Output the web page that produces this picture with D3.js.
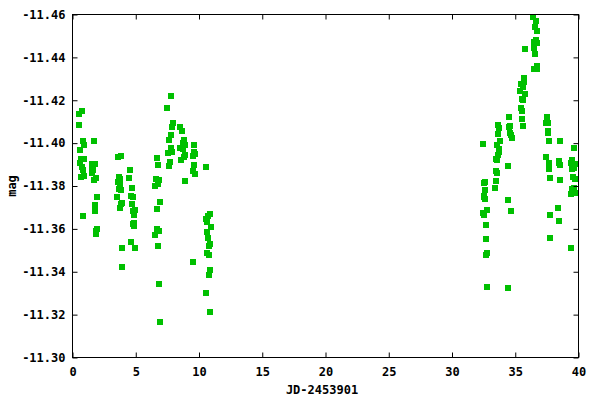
<!DOCTYPE html>
<html><head><meta charset="utf-8">
<script src="https://cdn.jsdelivr.net/npm/d3@7"></script>
<style>
html,body{margin:0;padding:0;background:#fff;}
svg{display:block;}
text{font-family:"DejaVu Sans Mono",monospace;font-weight:bold;font-size:12px;fill:#000;}
</style></head>
<body>
<svg id="chart" width="600" height="400"></svg>
<script>
// Julian date offsets (JD-2453901)
const jd = [
 0.50,0.73,0.53,0.81,0.89,0.58,0.66,0.89,0.61,0.73,0.84,0.66,0.89,0.81,
 1.68,1.58,1.79,1.55,1.63,1.55,1.87,1.68,1.92,1.76,1.76,1.92,1.84,1.84,
 3.61,3.81,4.52,3.65,3.73,3.58,4.44,3.73,3.65,3.81,4.68,3.50,3.89,3.81,3.73,4.60,4.76,4.68,4.76,4.92,4.84,4.76,4.84,4.84,4.60,3.89,4.92,3.89,
 6.65,6.73,6.57,6.81,6.73,6.50,6.89,6.65,6.65,6.81,6.50,6.73,6.81,6.89,
 7.76,7.44,7.92,7.84,8.47,8.63,7.76,7.60,8.78,8.71,8.86,9.57,7.76,8.52,8.71,7.52,7.84,9.57,9.65,8.86,9.49,8.78,8.55,7.68,7.60,9.57,9.49,9.65,8.86,9.49,
 10.52,10.84,10.68,10.52,10.63,10.92,10.60,10.68,10.84,10.76,10.60,10.76,10.84,10.76,10.52,10.84,
 36.41,36.65,36.57,36.72,36.49,36.65,36.72,35.78,36.49,36.57,36.49,36.72,36.72,35.70,35.70,35.46,35.62,35.38,35.78,35.52,35.62,35.46,35.54,35.54,35.62,
 34.51,33.65,33.72,34.51,34.59,33.65,34.59,34.67,34.75,33.80,33.57,32.46,33.72,33.72,33.65,33.49,33.57,34.44,33.49,33.57,33.49,33.41,
 32.54,32.62,32.62,32.54,32.54,32.62,34.44,32.78,32.46,32.54,34.67,32.70,32.70,32.78,32.70,32.78,34.44,
 37.51,37.51,37.43,37.62,37.59,37.59,37.67,38.54,39.64,37.43,37.67,37.67,38.46,38.46,38.54,37.75,38.54,
 39.49,39.41,39.64,39.80,39.49,39.64,39.57,39.72,39.64,39.49,39.57,39.41,39.80,38.38,37.75,38.46,37.75,39.41
];
// magnitudes
const mag = [
 -11.4134,-11.4152,-11.4083,-11.4008,-11.3989,-11.3966,-11.3924,-11.3924,-11.3905,-11.3890,-11.3874,-11.3840,-11.3845,-11.3658,
 -11.4008,-11.3904,-11.3904,-11.3890,-11.3874,-11.3859,-11.3835,-11.3826,-11.3747,-11.3710,-11.3682,-11.3598,-11.3588,-11.3577,
 -11.3933,-11.3938,-11.3873,-11.3843,-11.3831,-11.3817,-11.3835,-11.3803,-11.3784,-11.3780,-11.3789,-11.3750,-11.3719,-11.3714,-11.3696,-11.3752,-11.3747,-11.3714,-11.3682,-11.3686,-11.3663,-11.3621,-11.3626,-11.3612,-11.3537,-11.3509,-11.3509,-11.3421,
 -11.3929,-11.3896,-11.3831,-11.3826,-11.3807,-11.3798,-11.3724,-11.3691,-11.3598,-11.3588,-11.3570,-11.3518,-11.3341,-11.3164,
 -11.4218,-11.4162,-11.4092,-11.4073,-11.4073,-11.4056,-11.4036,-11.4013,-11.4013,-11.3999,-11.3989,-11.3989,-11.3975,-11.3975,-11.3971,-11.3952,-11.3957,-11.3957,-11.3947,-11.3943,-11.3938,-11.3933,-11.3919,-11.3910,-11.3891,-11.3896,-11.3868,-11.3854,-11.3821,-11.3444,
 -11.3887,-11.3668,-11.3658,-11.3644,-11.3630,-11.3607,-11.3584,-11.3556,-11.3528,-11.3518,-11.3486,-11.3476,-11.3407,-11.3383,-11.3299,-11.3211,
 -11.4587,-11.4572,-11.4544,-11.4525,-11.4474,-11.4483,-11.4469,-11.4437,-11.4442,-11.4414,-11.4348,-11.4362,-11.4344,-11.4302,-11.4283,-11.4274,-11.4260,-11.4241,-11.4227,-11.4208,-11.4199,-11.4162,-11.4148,-11.4111,-11.4078,
 -11.4124,-11.4083,-11.4069,-11.4073,-11.4078,-11.4041,-11.4045,-11.4036,-11.4022,-11.4008,-11.3989,-11.3994,-11.3971,-11.3957,-11.3943,-11.3924,-11.3919,-11.3891,-11.3868,-11.3859,-11.3821,-11.3789,
 -11.3812,-11.3817,-11.3780,-11.3752,-11.3747,-11.3738,-11.3733,-11.3686,-11.3672,-11.3663,-11.3682,-11.3616,-11.3551,-11.3486,-11.3476,-11.3327,-11.3323,
 -11.4120,-11.4111,-11.4092,-11.4092,-11.4055,-11.4045,-11.4008,-11.4008,-11.3975,-11.3933,-11.3905,-11.3877,-11.3915,-11.3905,-11.3896,-11.3835,-11.3826,
 -11.3919,-11.3905,-11.3901,-11.3901,-11.3877,-11.3882,-11.3840,-11.3831,-11.3793,-11.3784,-11.3770,-11.3761,-11.3766,-11.3696,-11.3663,-11.3635,-11.3556,-11.3509
];
const xTicks = [0,5,10,15,20,25,30,35,40];
const xTickLabels = ["0","5","10","15","20","25","30","35","40"];
const yTicks = [-11.30,-11.32,-11.34,-11.36,-11.38,-11.40,-11.42,-11.44,-11.46];
const yTickLabels = ["-11.30","-11.32","-11.34","-11.36","-11.38","-11.40","-11.42","-11.44","-11.46"];
const xLabel = "JD-2453901";
const yLabel = "mag";

const L = 72.5, R = 578.5, T = 14.5, B = 357.5;
const svg = d3.select("#chart");
const x = d3.scaleLinear().domain([0,40]).range([L,R]);
const y = d3.scaleLinear().domain([-11.30,-11.46]).range([B,T]);

const data = jd.map((d,i)=>({jd:d, mag:mag[i]}));

// points
svg.append("g").selectAll("rect").data(data).join("rect")
  .attr("x", d=>Math.round(x(d.jd))-3)
  .attr("y", d=>Math.round(y(d.mag))-3)
  .attr("width",6).attr("height",6)
  .attr("fill","#00c000");

const tickLen = 5;
function styleAxis(g){
  g.select(".domain").remove();
  g.selectAll(".tick line").attr("stroke","#000").attr("stroke-width",1);
  g.selectAll("text").attr("fill","#000").style("font-family","'DejaVu Sans Mono',monospace").style("font-weight","bold").style("font-size","12px");
}
svg.append("g").attr("transform",`translate(${L},0)`)
  .call(d3.axisLeft(y).tickValues(yTicks).tickFormat((d,i)=>yTickLabels[i]).tickSizeInner(-tickLen).tickSizeOuter(0).tickPadding(7))
  .call(styleAxis);
svg.append("g").attr("transform",`translate(${R},0)`)
  .call(d3.axisRight(y).tickValues(yTicks).tickFormat("").tickSizeInner(-tickLen).tickSizeOuter(0))
  .call(styleAxis);
svg.append("g").attr("transform",`translate(0,${B})`)
  .call(d3.axisBottom(x).tickValues(xTicks).tickFormat((d,i)=>xTickLabels[i]).tickSizeInner(-tickLen).tickSizeOuter(0).tickPadding(10))
  .call(styleAxis);
svg.append("g").attr("transform",`translate(0,${T})`)
  .call(d3.axisTop(x).tickValues(xTicks).tickFormat("").tickSizeInner(-tickLen).tickSizeOuter(0))
  .call(styleAxis);

// border
svg.append("rect").attr("x",L).attr("y",T).attr("width",R-L).attr("height",B-T)
  .attr("fill","none").attr("stroke","#000").attr("stroke-width",1);

svg.append("text").attr("x",322).attr("y",394).attr("text-anchor","middle").text(xLabel);
svg.append("text").attr("transform",`translate(16,${(T+B)/2}) rotate(-90)`).attr("text-anchor","middle").text(yLabel);
</script>
</body></html>
